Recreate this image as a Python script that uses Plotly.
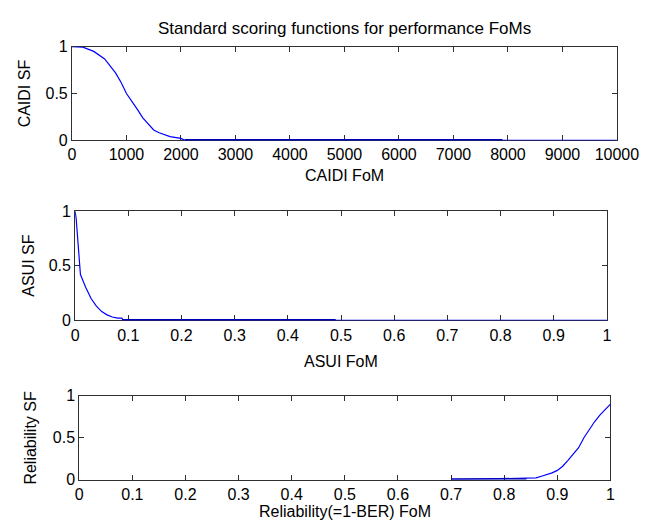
import plotly.graph_objects as go

# ---------------- data ----------------
caidi_x = [0, 200, 400, 600, 800, 900, 1000, 1100, 1200, 1300, 1400, 1500, 1600, 1800, 2000, 2070, 7900, 10000]
caidi_y = [1.0, 0.995, 0.95, 0.87, 0.72, 0.62, 0.50, 0.42, 0.33, 0.24, 0.17, 0.11, 0.08, 0.04, 0.02, 0.0, 0.0, 0.0]
caidi_flat_x = [2070, 7900]
caidi_flat_y = [0, 0]

asui_x = [0, 0.002, 0.004, 0.006, 0.008, 0.01, 0.015, 0.02, 0.03, 0.04, 0.05, 0.06, 0.07, 0.08, 0.088, 0.09, 0.49, 1.0]
asui_y = [1.0, 0.93, 0.80, 0.65, 0.50, 0.42, 0.36, 0.30, 0.20, 0.13, 0.08, 0.05, 0.03, 0.02, 0.02, 0.0, 0.0, 0.0]
asui_flat_x = [0.09, 0.49]
asui_flat_y = [0, 0]

rel_x = [0.70, 0.845, 0.86, 0.87, 0.88, 0.89, 0.90, 0.91, 0.92, 0.93, 0.94, 0.95, 0.96, 0.97, 0.98, 0.99, 1.0]
rel_y = [0.0, 0.01, 0.02, 0.04, 0.06, 0.08, 0.11, 0.16, 0.23, 0.30, 0.38, 0.50, 0.60, 0.69, 0.77, 0.84, 0.90]
rel_flat_x = [0.70, 0.842]
rel_flat_y = [0, 0]

caidi_ticks = [0, 1000, 2000, 3000, 4000, 5000, 6000, 7000, 8000, 9000, 10000]
frac_ticks = [0, 0.1, 0.2, 0.3, 0.4, 0.5, 0.6, 0.7, 0.8, 0.9, 1]
frac_labels = ["0", "0.1", "0.2", "0.3", "0.4", "0.5", "0.6", "0.7", "0.8", "0.9", "1"]
sf_ticks = [0, 0.5, 1]
sf_labels = ["0", "0.5", "1"]

title_text = "Standard scoring functions for performance FoMs"
xtitles = ["CAIDI FoM", "ASUI FoM", "Reliability(=1-BER) FoM"]
ytitles = ["CAIDI SF", "ASUI SF", "Reliability SF"]

# ---------------- layout geometry (pixels) ----------------
W, H = 669, 528
boxes = [  # left, right, top, bottom
    (70.7, 637.7, 40.0, 136.7),
    (74.0, 627.3, 210.0, 322.7),
    (78.3, 631.0, 400.7, 487.3),
]
xt_y = [173, 365, 520]
yt_x = [21.7, 26, 28]

FONT = "Liberation Sans, Arial, Helvetica, sans-serif"
BLUE = "#0000ff"
DARK = "#0000b4"
AX = "#303030"

fig = go.Figure()
series = [
    (caidi_x, caidi_y, caidi_flat_x, caidi_flat_y),
    (asui_x, asui_y, asui_flat_x, asui_flat_y),
    (rel_x, rel_y, rel_flat_x, rel_flat_y),
]
for i, (x, y, fx, fy) in enumerate(series):
    xa = "x" if i == 0 else f"x{i+1}"
    ya = "y" if i == 0 else f"y{i+1}"
    fig.add_trace(go.Scatter(x=x, y=y, mode="lines", line=dict(color=BLUE, width=1.2),
                             xaxis=xa, yaxis=ya, showlegend=False, hoverinfo="skip",
                             cliponaxis=False))
    fig.add_trace(go.Scatter(x=fx, y=fy, mode="lines", line=dict(color=DARK, width=2.5),
                             xaxis=xa, yaxis=ya, showlegend=False, hoverinfo="skip",
                             cliponaxis=False))

layout = dict(
    width=W, height=H,
    margin=dict(l=0, r=0, t=0, b=0),
    paper_bgcolor="white", plot_bgcolor="white",
    font=dict(family=FONT, size=16, color="black"),
    showlegend=False,
    hovermode=False,
)

for i, (l, r, t, b) in enumerate(boxes):
    xk = "xaxis" if i == 0 else f"xaxis{i+1}"
    yk = "yaxis" if i == 0 else f"yaxis{i+1}"
    ya = "y" if i == 0 else f"y{i+1}"
    xa = "x" if i == 0 else f"x{i+1}"
    if i == 0:
        xr, xtv, xtt = [0, 10000], caidi_ticks, [str(v) for v in caidi_ticks]
    else:
        xr, xtv, xtt = [0, 1], frac_ticks, frac_labels
    layout[xk] = dict(
        domain=[l / W, r / W], anchor=ya, range=xr,
        tickmode="array", tickvals=xtv, ticktext=xtt,
        ticks="inside", ticklen=5, tickwidth=1, tickcolor=AX,
        showline=True, linecolor=AX, linewidth=1, mirror="ticks",
        showgrid=False, zeroline=False, layer="below traces",
        tickfont=dict(family=FONT, size=16, color="black"),
        fixedrange=True,
    )
    layout[yk] = dict(
        domain=[1 - b / H, 1 - t / H], anchor=xa, range=[0, 1],
        tickmode="array", tickvals=sf_ticks, ticktext=sf_labels,
        ticks="inside", ticklen=5, tickwidth=1, tickcolor=AX,
        showline=True, linecolor=AX, linewidth=1, mirror="ticks",
        showgrid=False, zeroline=False, layer="below traces",
        tickfont=dict(family=FONT, size=16, color="black"),
        fixedrange=True,
    )

annotations = [
    dict(text=title_text, x=(boxes[0][0] + boxes[0][1]) / 2 / W, y=1 - 21.5 / H,
         xref="paper", yref="paper", showarrow=False, xanchor="center", yanchor="middle",
         font=dict(family=FONT, size=17, color="black"))
]
for i, (l, r, t, b) in enumerate(boxes):
    annotations.append(dict(text=xtitles[i], x=(l + r) / 2 / W, y=1 - xt_y[i] / H,
                            xref="paper", yref="paper", showarrow=False,
                            xanchor="center", yanchor="middle",
                            font=dict(family=FONT, size=16, color="black")))
    annotations.append(dict(text=ytitles[i], x=yt_x[i] / W, y=1 - (t + b) / 2 / H,
                            xref="paper", yref="paper", showarrow=False, textangle=-90,
                            xanchor="center", yanchor="middle",
                            font=dict(family=FONT, size=16, color="black")))
layout["annotations"] = annotations

fig.update_layout(**layout)
fig.write_html(
    "out.html",
    config={"displayModeBar": False, "staticPlot": True},
    post_script="document.body.style.margin='0';document.body.style.overflow='hidden';",
)
